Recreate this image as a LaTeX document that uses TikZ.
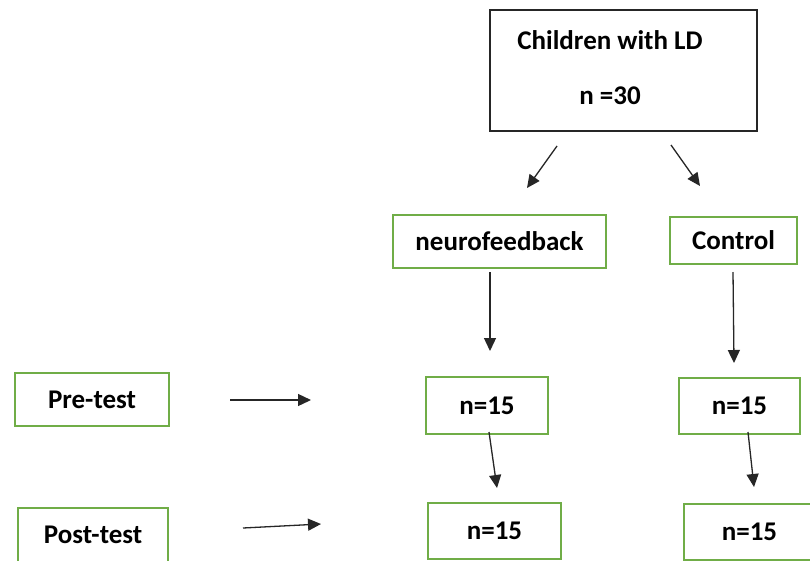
\documentclass[tikz,border=0pt]{standalone}
\usepackage{fontspec}
\setmainfont{Carlito}
\usetikzlibrary{arrows.meta}
\definecolor{boxgreen}{RGB}{112,173,71}
\tikzset{
  gbox/.style={draw=boxgreen, line width=1.8pt, rectangle, inner sep=0pt, outer sep=0pt,
    font=\fontsize{27}{30}\selectfont\bfseries},
  bbox/.style={draw=black!85, line width=1.5pt, rectangle, inner sep=0pt, outer sep=0pt},
  btext/.style={font=\fontsize{27}{30}\selectfont\bfseries, inner sep=0pt},
  arr/.style={draw=black!85, line width=1.3pt, -{Triangle[length=13pt,width=12pt]}}
}
\begin{document}
\begin{tikzpicture}[x=1pt,y=-1pt]
\path[use as bounding box] (0,0) rectangle (810,560);
\clip (0,0) rectangle (810,560);
\fill[white] (0,0) rectangle (810,560);

\node[bbox, minimum width=267pt, minimum height=121pt] (top) at (623.5,70.5) {};
\node[btext] (t1) at (610,40) {Children with LD};
\node[btext] (t2) at (610,96) {n =30};
\node[gbox, minimum width=213pt, minimum height=53pt] (neuro) at (499.5,241.5) {neurofeedback};
\node[gbox, minimum width=127pt, minimum height=47pt] (ctrl) at (733.5,240.5) {Control};
\node[gbox, minimum width=154pt, minimum height=53pt] (pre) at (92,399.5) {Pre-test};
\node[gbox, minimum width=122pt, minimum height=57pt] (n1) at (487,405.5) {n=15};
\node[gbox, minimum width=121pt, minimum height=56pt] (n2) at (739.5,406) {n=15};
\node[gbox, minimum width=150pt, minimum height=54pt] (post) at (93,535) {Post-test};
\node[gbox, minimum width=133pt, minimum height=56pt] (n3) at (494.5,531) {n=15};
\node[gbox, minimum width=131pt, minimum height=56pt] (n4) at (749.5,532) {n=15};

\coordinate (a1s) at (557,146); \coordinate (a1e) at (527,188);
\coordinate (a2s) at (671,145); \coordinate (a2e) at (700,186);
\coordinate (a3s) at (490,272); \coordinate (a3e) at (490,351);
\coordinate (a4s) at (733,272); \coordinate (a4e) at (734,363);
\coordinate (a5s) at (230,400); \coordinate (a5e) at (311,400);
\coordinate (a6s) at (489,432); \coordinate (a6e) at (497,488);
\coordinate (a7s) at (748,432); \coordinate (a7e) at (754,487);
\coordinate (a8s) at (243,528); \coordinate (a8e) at (321,524);

\draw[arr] (a1s) -- (a1e);
\draw[arr] (a2s) -- (a2e);
\draw[arr] (a3s) -- (a3e);
\draw[arr] (a4s) -- (a4e);
\draw[arr] (a5s) -- (a5e);
\draw[arr] (a6s) -- (a6e);
\draw[arr] (a7s) -- (a7e);
\draw[arr] (a8s) -- (a8e);
\end{tikzpicture}
\end{document}
